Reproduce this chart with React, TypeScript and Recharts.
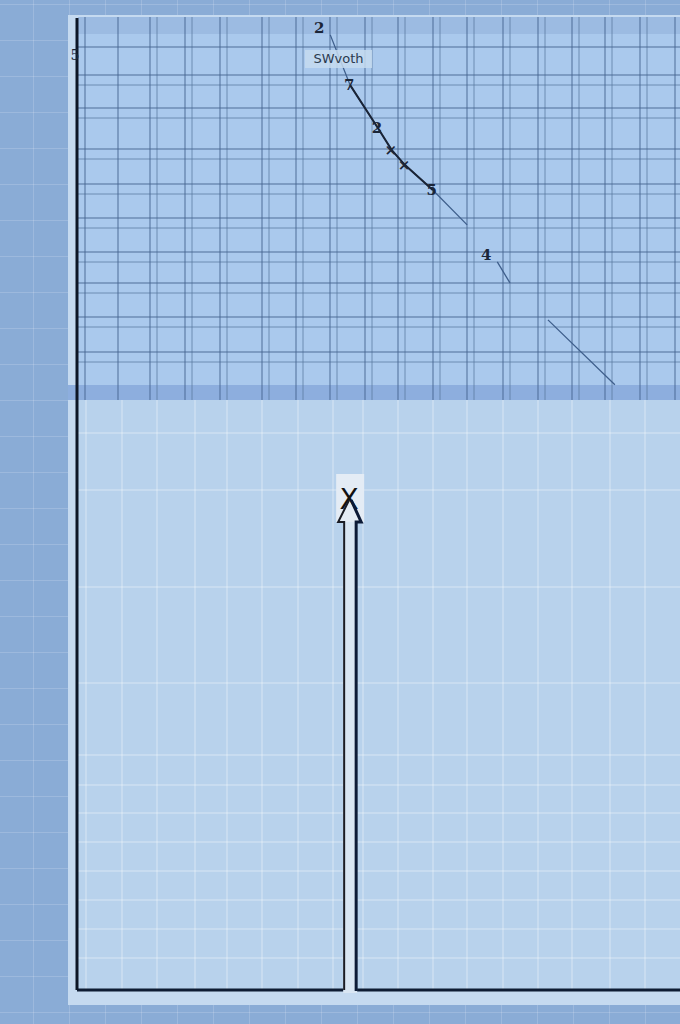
import { ComposedChart, Line, XAxis, YAxis, CartesianGrid, LabelList } from 'recharts'

// values: x on the bottom axis (0-100), y on the left axis
const xValues = [42.0, 45.3, 49.9, 52.2, 54.4, 59.0, 64.7, 67.2, 69.7, 71.8, 74.0, 78.1, 89.2]
const yValues = [95.4, 81.7, 70.0, 64.0, 59.9, 53.1, 43.6, null, 33.5, 27.8, null, 17.7, 0]
const pointLabels = ['2', '7', '2', '×', '×', '5', '', '', '4', '', '', '', '']
const strongSegment = [false, true, true, true, true, true, false, false, false, false, false, false, false]
const seriesName = 'SWvoth'
const xAxisLabel = 'X'
const xBreakAt = 45.3
const yTickValues = [90]
const yTickLabels = ['5']

const rows = xValues.map((x, i) => ({
  x,
  y: yValues[i],
  strong: strongSegment[i] ? yValues[i] : null,
  label: pointLabels[i],
}))

// chart sits at page (68, 15)
const OX = 68
const OY = 15
const topMajorX = [85, 118, 150, 185, 220, 262, 296, 330, 365, 398, 433, 467, 503, 538, 572, 605, 640, 675]
const topMinorX = topMajorX.slice(2).map((v) => v + 7)
const topMajorY = [47, 75, 108, 149, 184, 218, 252, 283, 317, 352]
const topMinorY = topMajorY.slice(1).map((v) => v + 10)
const botX = [86, 122, 157, 195, 227, 262, 298, 333, 363, 398, 433, 467, 503, 538, 572, 610, 645]
const botY = [433, 490, 587, 683, 755, 785, 813, 842, 871, 900, 929, 958]

const toX = (a: number[]) => a.map((v) => v - OX)
const toY = (a: number[]) => a.map((v) => v - OY)

const PointLabel = (props: any) => {
  const { x, y, value, index } = props
  if (!value || x == null || y == null) return null
  const upLeft = index === 0 || value === '4'
  return (
    <text
      x={x + (upLeft ? -11 : -1)}
      y={y + (upLeft ? -7 : 0)}
      textAnchor="middle"
      dominantBaseline="central"
      fontFamily="DejaVu Serif"
      fontSize={15}
      fontWeight="bold"
      fill="#1b2638"
    >
      {value}
    </text>
  )
}

const AxisBreak = (props: any) => {
  const vb = props.viewBox
  if (!vb) return null
  const bx = vb.x + (vb.width * xBreakAt) / 100
  const ay = vb.y
  return (
    <g>
      <rect x={bx - 7} y={ay - 470} width={14} height={473} fill="#d9e6f3" />
      <rect x={bx - 14} y={ay - 516} width={28} height={48} fill="#e4ecf5" />
      <text x={bx - 1} y={ay - 481} textAnchor="middle" fontFamily="DejaVu Sans" fontSize={28} fill="#111">
        {xAxisLabel}
      </text>
      <path
        d={`M${bx - 6},${ay} L${bx - 6},${ay - 468} L${bx - 12},${ay - 468} L${bx - 1},${ay - 490}`}
        fill="none"
        stroke="#1a1c24"
        strokeWidth={2}
      />
      <path
        d={`M${bx + 6},${ay + 1} L${bx + 6},${ay - 468} L${bx + 11},${ay - 468} L${bx + 1},${ay - 490}`}
        fill="none"
        stroke="#0c1a36"
        strokeWidth={3}
      />
    </g>
  )
}

const YTick = (props: any) => {
  const { x, y, index } = props
  return (
    <text x={x + 6} y={y} textAnchor="middle" dominantBaseline="central" fontFamily="DejaVu Serif" fontSize={14} fill="#1b2638">
      {yTickLabels[index]}
    </text>
  )
}

export default function App() {
  return (
    <div
      style={{
        position: 'relative',
        width: 680,
        height: 1024,
        overflow: 'hidden',
        backgroundColor: '#8aacd6',
        backgroundImage:
          'linear-gradient(rgba(255,255,255,0.16) 1px, transparent 1px), linear-gradient(90deg, rgba(255,255,255,0.16) 1px, transparent 1px)',
        backgroundSize: '36px 36px',
        backgroundPosition: '-3px 4px',
      }}
    >
      <style>{'body{margin:0}'}</style>
      <div style={{ position: 'absolute', left: 68, top: 15, width: 612, height: 990, background: '#c5daf0' }} />
      <div style={{ position: 'absolute', left: 78, top: 17, width: 602, height: 368, background: '#aac9ed' }} />
      <div style={{ position: 'absolute', left: 78, top: 17, width: 602, height: 17, background: '#9cbbe2' }} />
      <div style={{ position: 'absolute', left: 68, top: 385, width: 612, height: 15, background: '#8daede' }} />
      <div style={{ position: 'absolute', left: 78, top: 400, width: 602, height: 590, background: '#b8d2ec' }} />

      <div style={{ position: 'absolute', left: OX, top: OY }}>
        <ComposedChart width={612} height={990} data={rows} margin={{ top: 3, right: 0, bottom: 0, left: 0 }}>
          <CartesianGrid
            x={10}
            y={385}
            width={602}
            height={590}
            verticalPoints={toX(botX)}
            horizontalPoints={toY(botY)}
            stroke="#ffffff"
            strokeOpacity={0.45}
          />
          <CartesianGrid
            x={10}
            y={2}
            width={602}
            height={383}
            verticalPoints={toX(topMinorX)}
            horizontalPoints={toY(topMinorY)}
            stroke="#58789f"
            strokeOpacity={0.75}
          />
          <CartesianGrid
            x={10}
            y={2}
            width={602}
            height={383}
            verticalPoints={toX(topMajorX)}
            horizontalPoints={toY(topMajorY)}
            stroke="#46658f"
            strokeOpacity={0.9}
          />
          <XAxis
            dataKey="x"
            type="number"
            domain={[0, 100]}
            height={15}
            tick={false}
            tickLine={false}
            axisLine={{ stroke: '#0e1c33', strokeWidth: 3 }}
            label={{ content: AxisBreak }}
          />
          <YAxis
            type="number"
            domain={[-165, 100]}
            width={9}
            ticks={yTickValues}
            interval={0}
            tickLine={false}
            tick={YTick}
            axisLine={{ stroke: '#0d1626', strokeWidth: 3 }}
          />
          <Line
            dataKey="y"
            name={seriesName}
            stroke="#3f5f8c"
            strokeWidth={1.3}
            dot={false}
            activeDot={false}
            connectNulls={false}
            isAnimationActive={false}
          >
            <LabelList dataKey="label" content={PointLabel} />
          </Line>
          <Line
            dataKey="strong"
            stroke="#1a2436"
            strokeWidth={2}
            dot={false}
            activeDot={false}
            legendType="none"
            isAnimationActive={false}
          />
        </ComposedChart>
      </div>

      <div
        style={{
          position: 'absolute',
          left: 305,
          top: 50,
          width: 67,
          height: 18,
          lineHeight: '18px',
          textAlign: 'center',
          background: 'rgba(198,219,239,0.85)',
          fontFamily: 'DejaVu Sans',
          fontSize: 13,
          color: '#2b3a4f',
        }}
      >
        {seriesName}
      </div>
    </div>
  )
}
